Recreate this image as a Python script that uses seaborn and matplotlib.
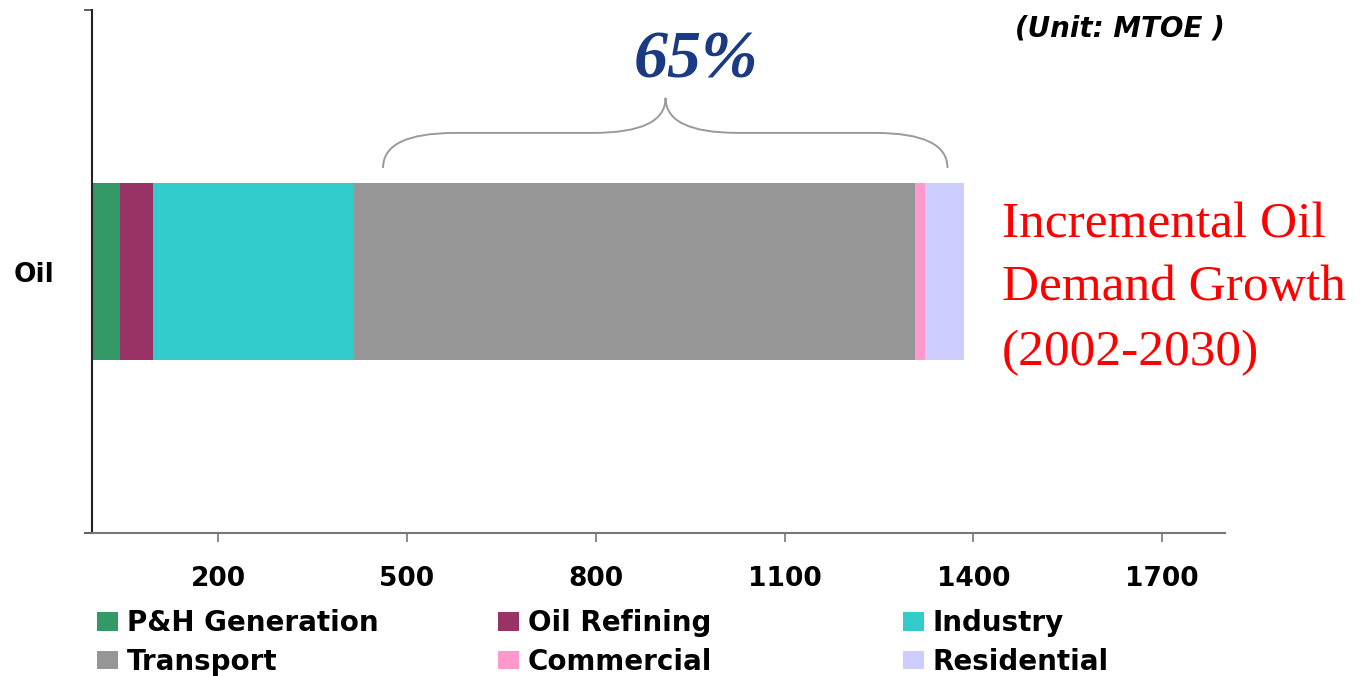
import matplotlib
matplotlib.use("Agg")
import matplotlib.pyplot as plt
from matplotlib.path import Path
from matplotlib.patches import PathPatch, Patch
import seaborn as sns
import numpy as np

# ---- data ----
category = ["Oil"]
sectors = ["P&H Generation", "Oil Refining", "Industry", "Transport", "Commercial", "Residential"]
values = [44, 52, 320, 892, 16, 62]
colors = ["#339966", "#993366", "#33CCCC", "#969696", "#FF99CC", "#CCCCFF"]
xticks = [200, 500, 800, 1100, 1400, 1700]
share_label = "65%"
side_lines = ["Incremental Oil", "Demand Growth", "(2002-2030)"]
unit_label = "(Unit: MTOE )"

sns.set_style("white")
plt.rcParams["font.family"] = ["DejaVu Sans"]
plt.rcParams["text.color"] = "black"
plt.rcParams["xtick.labelcolor"] = "black"
plt.rcParams["ytick.labelcolor"] = "black"

W, H = 1365, 676
fig = plt.figure(figsize=(W / 100, H / 100), dpi=100)
ax = fig.add_axes([92.3 / W, 1 - 533 / H, (1225 - 92.3) / W, (533 - 10) / H])

cum = np.cumsum(values)
for i in reversed(range(len(values))):
    sns.barplot(x=[cum[i]], y=category, orient="h", color=colors[i],
                width=0.337, saturation=1, linewidth=0, ax=ax)

ax.set_xlim(0, 1800)
ax.set_ylim(0.5, -0.5)
ax.set_xticks(xticks)
ax.set_xticklabels([str(t) for t in xticks], fontsize=19, fontweight="bold", color="black")
ax.set_xlabel("")
ax.set_ylabel("")

for s in ["top", "right"]:
    ax.spines[s].set_visible(False)
ax.spines["left"].set_color("#222222")
ax.spines["left"].set_linewidth(1.5)
ax.spines["bottom"].set_color("#777777")
ax.spines["bottom"].set_linewidth(1.5)

ax.tick_params(axis="x", direction="out", length=6.5, width=1.2, color="#777777",
               pad=17, bottom=True)
ax.set_yticks([0])
ax.set_yticklabels(category, fontsize=19, fontweight="bold", color="black")
ax.tick_params(axis="y", which="major", length=0, pad=27, left=True)
ax.set_yticks([-0.5, 0.5], minor=True)
ax.tick_params(axis="y", which="minor", direction="out", length=6, width=1.2,
               color="#444444", left=True)

# ---- brace over the transport share ----
xl, xt, xr = 462, 911, 1359
r = 115
y0, y1, y2 = 0.698, 0.765, 0.832
verts = [(xl, y0), (xl, y1), (xl + r, y1), (xt - r, y1), (xt, y1), (xt, y2),
         (xt, y1), (xt + r, y1), (xr - r, y1), (xr, y1), (xr, y0)]
codes = [Path.MOVETO, Path.CURVE3, Path.CURVE3, Path.LINETO, Path.CURVE3, Path.CURVE3,
         Path.CURVE3, Path.CURVE3, Path.LINETO, Path.CURVE3, Path.CURVE3]
brace = PathPatch(Path(verts, codes), facecolor="none", edgecolor="#9A9A9A",
                  linewidth=1.4, transform=ax.get_xaxis_transform(), clip_on=False)
ax.add_patch(brace)

fig.text(696 / W, 1 - 77 / H, share_label, ha="center", va="baseline",
         fontsize=49, fontweight="bold", fontstyle="italic", color="#1B3A84",
         family=["Liberation Serif", "DejaVu Serif"])

for line, base in zip(side_lines, [237, 300, 365]):
    fig.text(1002 / W, 1 - base / H, line, ha="left", va="baseline", fontsize=37,
             color="#FF0000", family=["Liberation Serif", "DejaVu Serif"])

fig.text(1120 / W, 1 - 37 / H, unit_label, ha="center", va="baseline", fontsize=20,
         fontweight="bold", fontstyle="italic", color="black")

# ---- legend: three columns of two rows ----
col_x = [97, 498, 903]
for c in range(3):
    idx = [c, c + 3]
    handles = [Patch(facecolor=colors[i], edgecolor="none", label=sectors[i]) for i in idx]
    fig.legend(handles=handles, loc="upper left",
               bbox_to_anchor=(col_x[c] / W, 1 - 609 / H),
               frameon=False, borderpad=0, borderaxespad=0,
               handlelength=0.75, handleheight=0.65, handletextpad=0.32,
               labelspacing=0.38, labelcolor="black",
               prop={"size": 20, "weight": "bold"})

fig.savefig("out.png", dpi=100)
